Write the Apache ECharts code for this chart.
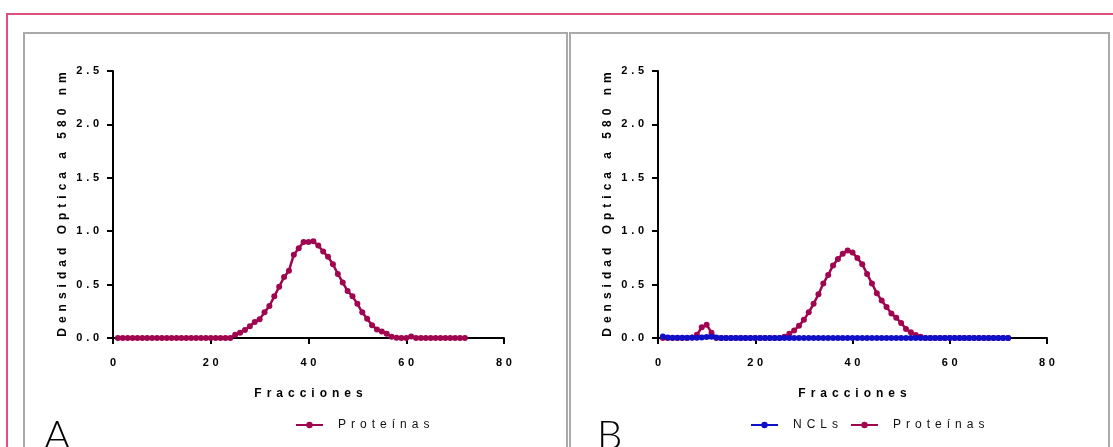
<!DOCTYPE html>
<html lang="es">
<head>
<meta charset="utf-8">
<title>Densidad Optica por fracciones</title>
<script src="https://cdn.jsdelivr.net/npm/echarts@6.0.0/dist/echarts.min.js"></script>
<style>
  html, body { margin: 0; padding: 0; background: #fff; }
  #chart { width: 1113px; height: 447px; }
</style>
</head>
<body>
<div id="chart"></div>
<script>
// fracciones recogidas (eje X)
var fracciones = [1, 2, 3, 4, 5, 6, 7, 8, 9, 10, 11, 12, 13, 14, 15, 16, 17, 18, 19, 20, 21, 22, 23, 24,
  25, 26, 27, 28, 29, 30, 31, 32, 33, 34, 35, 36, 37, 38, 39, 40, 41, 42, 43, 44, 45, 46, 47, 48,
  49, 50, 51, 52, 53, 54, 55, 56, 57, 58, 59, 60, 61, 62, 63, 64, 65, 66, 67, 68, 69, 70, 71, 72];

// panel A: proteinas
var proteinasA = [0, 0, 0, 0, 0, 0, 0, 0, 0, 0, 0, 0, 0, 0, 0, 0, 0, 0, 0, 0, 0, 0, 0, 0,
  0.03, 0.05, 0.075, 0.11, 0.15, 0.175, 0.24, 0.30, 0.39, 0.48, 0.57, 0.63, 0.78, 0.84, 0.90, 0.90,
  0.905, 0.865, 0.81, 0.76, 0.69, 0.60, 0.52, 0.44, 0.39, 0.32, 0.24, 0.18, 0.12, 0.08, 0.06, 0.04,
  0.012, 0.003, 0, 0, 0.015, 0, 0, 0, 0, 0, 0, 0, 0, 0, 0, 0];

// panel B: proteinas y NCLs
var proteinasB = [0, 0, 0, 0, 0, 0, 0.005, 0.03, 0.10, 0.125, 0.05, 0, 0, 0, 0, 0, 0, 0, 0, 0, 0, 0, 0, 0,
  0, 0.012, 0.04, 0.07, 0.115, 0.17, 0.24, 0.32, 0.41, 0.51, 0.59, 0.68, 0.74, 0.79, 0.82, 0.80,
  0.75, 0.69, 0.60, 0.51, 0.42, 0.35, 0.29, 0.23, 0.19, 0.14, 0.085, 0.053, 0.028, 0.012, 0, 0,
  0, 0, 0, 0, 0, 0, 0, 0, 0, 0, 0, 0, 0, 0, 0, 0];
var nclsB = [0.015, 0.005, 0.003, 0.003, 0.003, 0.003, 0.003, 0.003, 0.005, 0.01, 0.012, 0.005, 0, 0, 0, 0, 0, 0, 0, 0, 0, 0, 0, 0,
  0, 0, 0, 0, 0, 0, 0, 0, 0, 0, 0, 0, 0, 0, 0, 0, 0, 0, 0, 0, 0, 0, 0, 0,
  0, 0, 0, 0, 0, 0, 0, 0, 0, 0, 0, 0, 0, 0, 0, 0, 0, 0, 0, 0, 0, 0, 0, 0];

var colorProt = '#a0054f';
var colorNcl = '#1010c8';

// texto espaciado como en el original
function spaced(s, sep) {
  return String(s).split('').join(sep);
}

function pares(vals) {
  return fracciones.map(function (f, i) { return [f, vals[i]]; });
}

var fuerte = { fontFamily: 'Liberation Sans', fontWeight: 'bold', color: '#000' };
var sepNombre = '\u2004\u200A';
var sepTick = '\u2004';

function xAxisDe(idx) {
  return {
    type: 'value', gridIndex: idx, min: 0, max: 80, interval: 20,
    name: spaced('Fracciones', sepNombre), nameLocation: 'middle', nameGap: 50,
    nameTextStyle: Object.assign({ fontSize: 12 }, fuerte),
    axisLine: { lineStyle: { color: '#000', width: 2 } },
    axisTick: { length: 6, lineStyle: { color: '#000', width: 2 } },
    axisLabel: Object.assign({
      margin: 19, fontSize: 11,
      formatter: function (v) { return spaced(v, sepTick); }
    }, fuerte),
    splitLine: { show: false }
  };
}

function yAxisDe(idx) {
  return {
    type: 'value', gridIndex: idx, min: 0, max: 2.5, interval: 0.5,
    name: spaced('Densidad Optica a 580 nm', sepNombre), nameLocation: 'middle', nameGap: 44,
    nameTextStyle: Object.assign({ fontSize: 12 }, fuerte),
    axisLine: { show: true, lineStyle: { color: '#000', width: 2 } },
    axisTick: { show: true, length: 6, lineStyle: { color: '#000', width: 2 } },
    axisLabel: Object.assign({
      margin: 14, fontSize: 11,
      formatter: function (v) { return spaced(v.toFixed(1), sepTick); }
    }, fuerte),
    splitLine: { show: false }
  };
}

function serie(nombre, vals, idx, color) {
  return {
    name: nombre, type: 'line', xAxisIndex: idx, yAxisIndex: idx,
    data: pares(vals),
    symbol: 'circle', symbolSize: 6, showSymbol: true,
    itemStyle: { color: color },
    lineStyle: { color: color, width: 2.5 },
    animation: false
  };
}

var legendText = {
  fontFamily: 'Liberation Sans', fontSize: 12, color: '#111', padding: [0, 0, 0, 10]
};
function legendFmt(n) { return spaced(n, '\u2004\u200A'); }

var chart = echarts.init(document.getElementById('chart'), null, { renderer: 'canvas' });
chart.setOption({
  backgroundColor: '#fff',
  animation: false,
  grid: [
    { left: 113, top: 71, width: 391, height: 267 },
    { left: 658, top: 71, width: 389, height: 267 }
  ],
  xAxis: [xAxisDe(0), xAxisDe(1)],
  yAxis: [yAxisDe(0), yAxisDe(1)],
  legend: [
    {
      left: 295, top: 419, padding: 0, data: ['Proteínas'], itemWidth: 27, itemHeight: 8, itemGap: 12,
      textStyle: legendText, formatter: legendFmt
    },
    {
      left: 750, top: 419, padding: 0, data: ['NCLs', 'Proteínas'], itemWidth: 27, itemHeight: 8, itemGap: 12,
      textStyle: legendText, formatter: legendFmt
    }
  ],
  series: [
    serie('Proteínas', proteinasA, 0, colorProt),
    serie('Proteínas', proteinasB, 1, colorProt),
    serie('NCLs', nclsB, 1, colorNcl)
  ],
  graphic: [
    { type: 'rect', z: -1, shape: { x: 7, y: 14, width: 1110, height: 460 },
      style: { fill: 'none', stroke: '#de4f7b', lineWidth: 2 } },
    { type: 'rect', z: -1, shape: { x: 24, y: 33, width: 543, height: 440 },
      style: { fill: 'none', stroke: '#aaaaaa', lineWidth: 2 } },
    { type: 'rect', z: -1, shape: { x: 570, y: 33, width: 539, height: 440 },
      style: { fill: 'none', stroke: '#aaaaaa', lineWidth: 2 } },
    { type: 'text', left: 44, top: 416,
      style: { text: 'A', fontFamily: 'Lato', fontWeight: 300, fontSize: 40, fill: '#000' } },
    { type: 'text', left: 597, top: 416,
      style: { text: 'B', fontFamily: 'Lato', fontWeight: 300, fontSize: 40, fill: '#000' } }
  ]
});
</script>
</body>
</html>
